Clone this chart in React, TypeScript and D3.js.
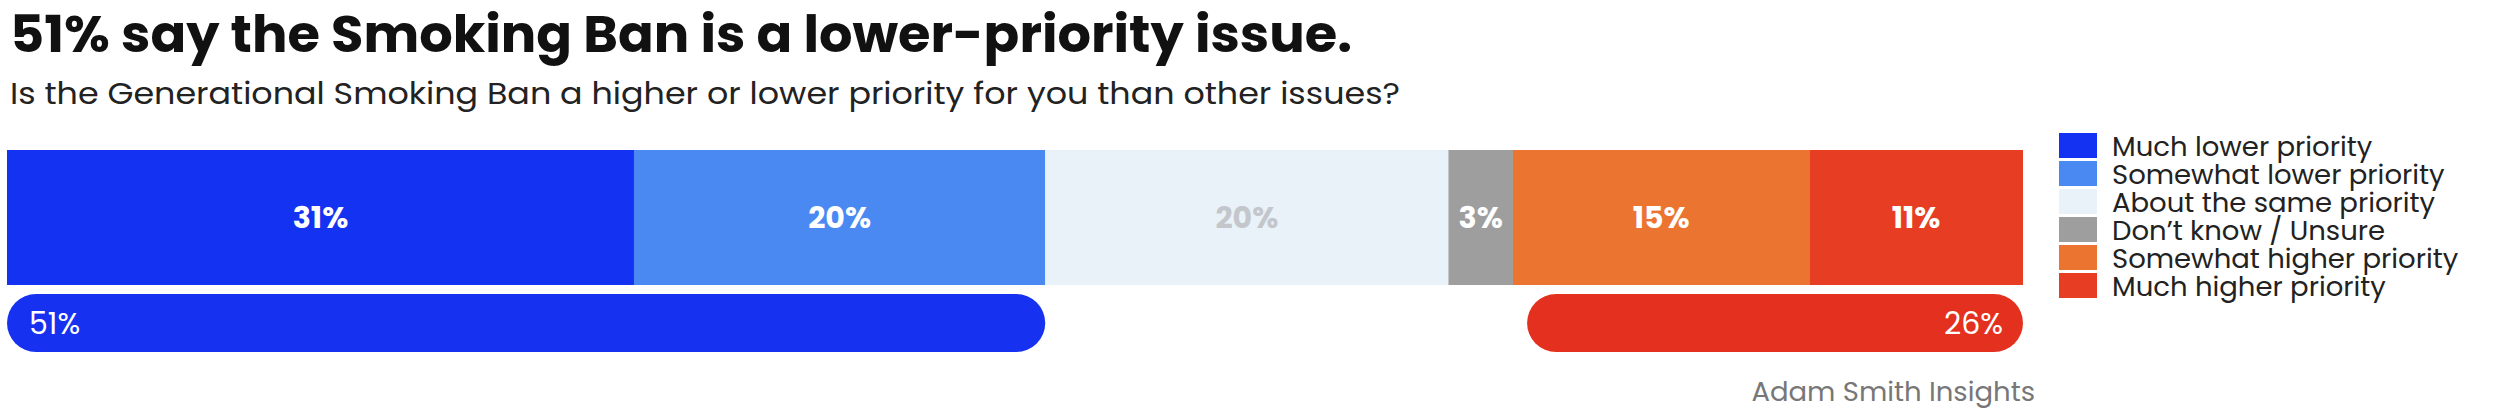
import React, { useEffect, useRef } from 'react';
import * as d3 from 'd3';

const categories = [
  'Much lower priority',
  'Somewhat lower priority',
  'About the same priority',
  'Don’t know / Unsure',
  'Somewhat higher priority',
  'Much higher priority',
];
const shares = [31.1, 20.4, 20.0, 3.2, 14.7, 10.6];
const colors = ['#1432f2', '#4a89f2', '#e8f2f8', '#9e9e9e', '#eb7430', '#e63d23'];
const labelColors = ['#ffffff', '#ffffff', '#c3c7cb', '#ffffff', '#ffffff', '#ffffff'];

// net totals shown under the bar
const netLabels = ['51%', '26%'];
const netRanges = [[0, 51.5], [75.4, 100]];
const netColors = ['#1631f0', '#e4301f'];

const title = '51% say the Smoking Ban is a lower-priority issue.';
const subtitle = 'Is the Generational Smoking Ban a higher or lower priority for you than other issues?';
const source = 'Adam Smith Insights';

export default function App() {
  const ref = useRef<SVGSVGElement | null>(null);

  useEffect(() => {
    const svg = d3.select(ref.current);
    svg.selectAll('*').remove();
    const width = 2500, height = 418;
    const font = 'Poppins, "Open Sans", "Noto Sans", sans-serif';

    svg.attr('viewBox', `0 0 ${width} ${height}`);

    const x = d3.scaleLinear().domain([0, 100]).range([7, 2023]);
    const y = d3.scaleBand().domain(['main', 'net']).range([150, 352]).paddingInner(0.045);
    const mainH = 135;
    const netY = 294, netH = 58;

    svg.append('text')
      .attr('x', 10).attr('y', 52)
      .attr('font-family', font).attr('font-weight', 700)
      .attr('font-size', 51).attr('fill', '#111')
      .attr('textLength', 1342).attr('lengthAdjust', 'spacingAndGlyphs')
      .text(title);

    svg.append('text')
      .attr('x', 10).attr('y', 104)
      .attr('font-family', font).attr('font-weight', 400)
      .attr('font-size', 31).attr('fill', '#222')
      .attr('textLength', 1390).attr('lengthAdjust', 'spacingAndGlyphs')
      .text(subtitle);

    const stack = shares.map((v, i) => {
      const start = d3.sum(shares.slice(0, i));
      return { v, i, start, end: start + v };
    });

    const barTop = y('main') as number;
    const seg = svg.append('g');
    seg.selectAll('rect').data(stack).join('rect')
      .attr('x', d => x(d.start))
      .attr('y', barTop)
      .attr('width', d => x(d.end) - x(d.start))
      .attr('height', mainH)
      .attr('fill', d => colors[d.i]);

    seg.selectAll('text').data(stack).join('text')
      .attr('x', d => (x(d.start) + x(d.end)) / 2)
      .attr('y', barTop + mainH / 2)
      .attr('dy', '0.36em')
      .attr('text-anchor', 'middle')
      .attr('font-family', font).attr('font-weight', 700)
      .attr('font-size', 30)
      .attr('fill', d => labelColors[d.i])
      .text(d => `${Math.round(d.v)}%`);

    const net = svg.append('g');
    net.selectAll('rect').data(netRanges).join('rect')
      .attr('x', d => x(d[0]))
      .attr('y', netY)
      .attr('width', d => x(d[1]) - x(d[0]))
      .attr('height', netH)
      .attr('rx', netH / 2)
      .attr('fill', (_, i) => netColors[i]);

    net.selectAll('text').data(netRanges).join('text')
      .attr('x', (d, i) => (i === 0 ? x(d[0]) + 22 : x(d[1]) - 20))
      .attr('y', netY + netH / 2)
      .attr('dy', '0.36em')
      .attr('text-anchor', (_, i) => (i === 0 ? 'start' : 'end'))
      .attr('font-family', font).attr('font-weight', 400)
      .attr('font-size', 30).attr('fill', '#fff')
      .text((_, i) => netLabels[i]);

    const legend = svg.append('g').attr('transform', 'translate(2059,133)');
    const row = legend.selectAll('g').data(categories).join('g')
      .attr('transform', (_, i) => `translate(0,${i * 28})`);
    row.append('rect')
      .attr('width', 38).attr('height', 25)
      .attr('fill', (_, i) => colors[i]);
    row.append('text')
      .attr('x', 53).attr('y', 23)
      .attr('font-family', font).attr('font-size', 27.5).attr('fill', '#222')
      .text(d => d);

    svg.append('text')
      .attr('x', 2035).attr('y', 401)
      .attr('text-anchor', 'end')
      .attr('font-family', font).attr('font-size', 27.5).attr('fill', '#777')
      .text(source);
  }, []);

  return (
    <svg
      ref={ref}
      width={2500}
      height={418}
      style={{ position: 'absolute', left: 0, top: 0, background: '#fff' }}
    />
  );
}
